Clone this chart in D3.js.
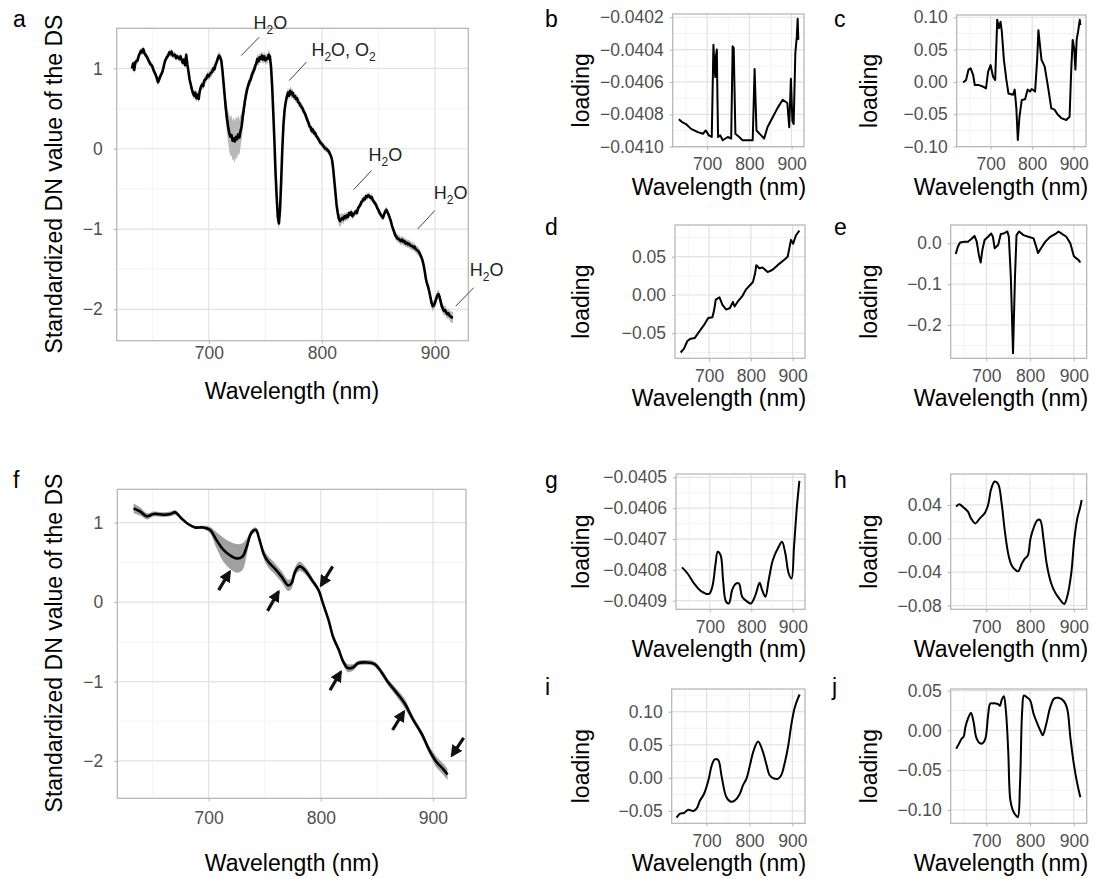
<!DOCTYPE html>
<html>
<head>
<meta charset="utf-8">
<script src="https://cdn.jsdelivr.net/npm/d3@7"></script>
<style>
  body { margin: 0; background: #fff; }
  svg { font-family: "Liberation Sans", Arial, sans-serif; }
</style>
</head>
<body>
<svg id="chart" width="1097" height="879"></svg>
<script>
'use strict';

// ---- data ----
var xDomain = [618.5, 929.5];
var xTicks  = [700, 800, 900];

// panel a: raw spectrum [wavelength, mean, sd]
var specA = [
  [632,1.00,.05],[633,1.06,.05],[634,0.98,.05],[635,1.08,.04],[637,1.10,.04],[638,1.16,.04],
  [640,1.22,.04],[641,1.20,.04],[642,1.24,.04],[643,1.19,.04],[645,1.15,.04],[646,1.12,.04],
  [648,1.06,.04],[650,1.03,.04],[651,0.98,.04],[653,0.92,.04],[654,0.88,.05],[655,0.83,.05],
  [656,0.86,.05],[657,0.90,.04],[659,0.96,.04],[660,1.02,.04],[661,1.08,.04],[662,1.12,.04],
  [664,1.16,.04],[665,1.20,.04],[666,1.18,.04],[667,1.21,.04],[668,1.16,.04],[670,1.17,.04],
  [671,1.13,.04],[672,1.15,.04],[674,1.12,.04],[675,1.15,.04],[676,1.10,.04],[677,1.07,.04],
  [678,1.11,.04],[679,1.04,.04],[680,1.17,.04],[681,1.05,.04],[682,0.96,.04],[683,0.86,.05],
  [684,0.80,.05],[685,0.74,.05],[686,0.69,.05],[687,0.66,.05],[688,0.70,.05],[689,0.63,.05],
  [690,0.67,.05],[691,0.62,.05],[692,0.72,.05],[693,0.77,.05],[694,0.80,.05],[695,0.78,.05],
  [696,0.85,.05],[698,0.88,.05],[699,0.92,.05],[700,0.90,.05],[701,0.93,.05],[703,0.96,.05],
  [704,1.00,.05],[705,0.99,.05],[706,1.05,.05],[707,1.08,.05],[708,1.13,.05],[709,1.16,.05],
  [710,1.14,.05],[711,1.10,.06],[712,0.98,.08],[713,0.82,.10],[714,0.66,.13],[715,0.50,.16],
  [716,0.38,.18],[717,0.28,.20],[718,0.20,.22],[719,0.15,.24],[720,0.17,.25],[721,0.10,.25],
  [722,0.13,.26],[723,0.09,.26],[724,0.15,.25],[725,0.12,.25],[726,0.18,.24],[727,0.14,.22],
  [728,0.22,.20],[729,0.28,.17],[730,0.40,.14],[731,0.50,.12],[732,0.60,.10],[733,0.68,.08],
  [734,0.75,.07],[736,0.84,.06],[737,0.86,.06],[738,0.92,.06],[740,0.98,.06],[741,1.03,.06],
  [742,1.06,.06],[743,1.12,.06],[744,1.09,.06],[745,1.14,.06],[746,1.12,.06],[747,1.16,.06],
  [748,1.11,.06],[749,1.15,.06],[750,1.10,.06],[751,1.13,.06],[752,1.12,.06],[753,1.17,.06],
  [754,1.15,.06],[755,1.02,.06],[756,0.78,.06],[757,0.45,.06],[758,0.10,.06],[759,-0.30,.06],
  [760,-0.60,.07],[761,-0.85,.08],[762,-0.93,.08],[763,-0.75,.07],[764,-0.40,.06],[765,0.00,.06],
  [766,0.30,.06],[767,0.48,.06],[768,0.58,.06],[769,0.65,.06],[770,0.70,.06],[771,0.66,.06],
  [772,0.72,.06],[773,0.68,.06],[774,0.70,.05],[775,0.65,.05],[776,0.66,.05],[777,0.62,.05],
  [778,0.63,.05],[779,0.58,.05],[780,0.57,.05],[781,0.54,.05],[782,0.52,.05],[783,0.50,.05],
  [784,0.46,.05],[785,0.44,.05],[786,0.40,.05],[787,0.36,.05],[788,0.33,.05],[789,0.28,.05],
  [790,0.27,.05],[791,0.22,.04],[792,0.24,.04],[793,0.19,.04],[794,0.20,.04],[795,0.16,.04],
  [796,0.14,.04],[797,0.12,.04],[798,0.09,.04],[799,0.07,.04],[800,0.06,.04],[801,0.04,.04],
  [802,0.02,.04],[803,0.00,.04],[804,0.00,.04],[805,-0.02,.04],[806,-0.03,.04],[807,-0.06,.04],
  [808,-0.09,.04],[809,-0.14,.04],[810,-0.25,.04],[811,-0.40,.05],[812,-0.55,.05],[813,-0.70,.06],
  [814,-0.80,.07],[815,-0.87,.08],[816,-0.90,.08],[817,-0.88,.07],[818,-0.86,.06],[819,-0.88,.06],
  [820,-0.84,.05],[821,-0.86,.05],[822,-0.83,.05],[823,-0.85,.05],[824,-0.80,.04],[825,-0.82,.04],
  [826,-0.79,.04],[827,-0.84,.04],[828,-0.82,.04],[829,-0.80,.04],[830,-0.78,.04],[831,-0.80,.04],
  [832,-0.74,.04],[833,-0.72,.04],[834,-0.70,.04],[835,-0.66,.04],[836,-0.65,.04],[837,-0.62,.04],
  [838,-0.63,.04],[839,-0.59,.04],[840,-0.60,.04],[841,-0.58,.04],[842,-0.59,.04],[843,-0.61,.04],
  [844,-0.60,.04],[845,-0.64,.04],[846,-0.66,.04],[847,-0.68,.04],[848,-0.70,.04],[849,-0.74,.04],
  [850,-0.76,.04],[851,-0.80,.04],[852,-0.82,.04],[853,-0.84,.04],[854,-0.86,.04],[855,-0.82,.04],
  [856,-0.78,.04],[857,-0.76,.04],[858,-0.79,.04],[859,-0.82,.04],[860,-0.86,.04],[861,-0.90,.04],
  [862,-0.96,.04],[863,-1.00,.04],[864,-1.04,.05],[865,-1.08,.05],[866,-1.10,.05],[867,-1.12,.05],
  [868,-1.12,.05],[869,-1.14,.05],[870,-1.15,.05],[871,-1.13,.05],[872,-1.16,.05],[873,-1.15,.05],
  [874,-1.18,.05],[875,-1.17,.05],[876,-1.19,.05],[877,-1.18,.05],[878,-1.20,.05],[879,-1.21,.05],
  [880,-1.21,.05],[881,-1.23,.05],[882,-1.22,.05],[883,-1.25,.05],[884,-1.26,.05],[885,-1.27,.05],
  [886,-1.29,.05],[887,-1.32,.05],[888,-1.35,.05],[889,-1.39,.05],[890,-1.45,.05],[891,-1.53,.05],
  [892,-1.62,.05],[893,-1.68,.05],[894,-1.72,.05],[895,-1.78,.05],[896,-1.85,.05],[897,-1.92,.06],
  [898,-1.96,.06],[899,-1.95,.06],[900,-1.92,.06],[901,-1.87,.06],[902,-1.83,.06],[903,-1.81,.06],
  [904,-1.84,.06],[905,-1.90,.06],[906,-1.96,.06],[907,-1.99,.06],[908,-2.02,.06],[909,-2.01,.06],
  [910,-2.04,.06],[911,-2.06,.06],[912,-2.05,.06],[913,-2.08,.06],[914,-2.09,.07],[915,-2.10,.07],
  [916,-2.10,.07]
];

// panel f: smoothed spectrum [wavelength, mean, sd]
var specF = [
  [633,1.18,.06],[639,1.14,.05],[645,1.08,.04],[651,1.11,.03],[660,1.10,.03],[666,1.11,.03],
  [670,1.13,.03],[676,1.05,.02],[682,0.98,.02],[688,0.94,.02],[695,0.94,.02],[701,0.91,.04],
  [707,0.78,.10],[713,0.66,.15],[719,0.59,.17],[725,0.55,.18],[730,0.57,.17],[734,0.70,.10],
  [738,0.87,.04],[742,0.91,.03],[745,0.80,.04],[749,0.61,.06],[753,0.51,.07],[759,0.42,.07],
  [765,0.32,.07],[771,0.21,.07],[774,0.24,.07],[777,0.38,.06],[781,0.45,.06],[786,0.40,.05],
  [792,0.28,.04],[798,0.15,.03],[802,-0.02,.03],[807,-0.23,.03],[811,-0.44,.03],[816,-0.60,.03],
  [820,-0.75,.04],[824,-0.83,.05],[829,-0.82,.04],[833,-0.77,.03],[841,-0.76,.03],[848,-0.78,.03],
  [854,-0.88,.04],[860,-1.01,.04],[867,-1.13,.05],[875,-1.28,.06],[882,-1.47,.04],[890,-1.66,.04],
  [897,-1.87,.05],[903,-2.01,.07],[909,-2.10,.07],[913,-2.17,.07]
];

// loadings of the raw spectra [wavelength, loading]
var loadB = [
  [633,-0.04083],[642,-0.04085],[650,-0.04086],[662,-0.04089],[678,-0.04091],[690,-0.04092],
  [697,-0.04090],[704,-0.04093],[711,-0.04094],[715,-0.04037],[717.5,-0.04052],[719.5,-0.04057],
  [721,-0.04044],[723,-0.04040],[724.5,-0.04070],[726,-0.04094],[731,-0.04093],[737,-0.04096],
  [749,-0.04094],[757,-0.04095],[760.5,-0.04038],[763,-0.04039],[767,-0.04092],[776,-0.04094],
  [784,-0.04096],[796,-0.04096],[808,-0.04096],[812.5,-0.04052],[817,-0.04090],[828,-0.04093],
  [835,-0.04095],[843,-0.04088],[855,-0.04082],[867,-0.04076],[879,-0.04071],[890,-0.04073],
  [894.5,-0.04088],[898.5,-0.04058],[902,-0.04084],[905,-0.04086],[909,-0.04042],[912.5,-0.04032],
  [914.5,-0.04021],[916,-0.04034]
];
var loadC = [
  [634,-0.001],[641,0.003],[647,0.019],[652,0.021],[658,0.011],[662,-0.005],[672,-0.005],
  [684,-0.008],[689,-0.010],[694,0.016],[700,0.026],[706,0.008],[711,0.003],[716,0.096],
  [720,0.083],[724,0.093],[727,0.078],[732,0.034],[738,0.003],[743,-0.018],[754,-0.020],
  [758,-0.012],[762,-0.041],[765.5,-0.090],[769.5,-0.054],[775,-0.028],[783,-0.027],[789,-0.012],
  [795,-0.015],[799,-0.011],[807,-0.015],[812,0.034],[815,0.080],[819,0.055],[822.5,0.034],
  [830,0.024],[838,-0.007],[846,-0.041],[854,-0.043],[862,-0.051],[870,-0.056],[882,-0.059],
  [890,-0.054],[894,0.019],[897.5,0.065],[901.5,0.049],[904,0.019],[907,0.065],[911,0.080],
  [914.5,0.096],[916,0.088]
];
var loadD = [
  [632,-0.075],[640,-0.070],[648,-0.060],[656,-0.057],[666,-0.056],[676,-0.048],[688,-0.039],
  [698,-0.030],[708,-0.029],[712,-0.020],[716,-0.006],[725,-0.003],[732,-0.013],[741,-0.019],
  [750,-0.017],[757,-0.009],[761,-0.015],[768,-0.009],[780,-0.001],[788,0.007],[800,0.014],
  [805,0.017],[810,0.028],[813,0.039],[820,0.035],[828,0.036],[840,0.030],[852,0.033],
  [864,0.039],[880,0.046],[888,0.050],[896,0.072],[901,0.067],[908,0.078],[916,0.084]
];
var loadE = [
  [630,-0.026],[635,-0.008],[640,0.002],[650,0.004],[658,0.004],[665,0.010],[673,0.018],
  [678,0.004],[683,-0.029],[687,-0.047],[691,-0.016],[696,0.008],[704,0.016],[711,0.024],
  [715,0.016],[719,-0.012],[727,-0.004],[733,0.023],[740,0.024],[748,0.029],[751.5,0.016],
  [756,-0.082],[761,-0.269],[765.5,-0.082],[769,0.020],[775,0.029],[785,0.020],[796,0.016],
  [808,0.012],[814,-0.008],[818,-0.024],[825,-0.012],[835,0.004],[846,0.016],[858,0.023],
  [865,0.029],[873,0.023],[883,0.016],[892,0.000],[900,-0.031],[906,-0.037],[911,-0.041],
  [915,-0.047]
];

// loadings of the smoothed spectra
var loadG = [
  [633,-0.040792],[646,-0.040811],[662,-0.040844],[678,-0.040868],[698,-0.040878],[706,-0.040855],
  [714,-0.040779],[719,-0.040741],[726,-0.040752],[732,-0.040833],[739,-0.040903],[746,-0.040909],
  [754,-0.040865],[762,-0.040846],[770,-0.040844],[778,-0.040887],[790,-0.040903],[799,-0.040909],
  [810,-0.040882],[820,-0.040842],[826,-0.040865],[834,-0.040887],[842,-0.040833],[852,-0.040768],
  [866,-0.040725],[874,-0.040709],[882,-0.040746],[890,-0.040811],[897,-0.040828],[903,-0.040725],
  [910,-0.040595],[916,-0.040511]
];
var loadH = [
  [631,0.038],[638,0.041],[650,0.036],[658,0.032],[665,0.024],[675,0.018],[685,0.024],
  [696,0.030],[704,0.040],[711,0.059],[719,0.068],[727,0.065],[735,0.042],[742,0.010],
  [750,-0.018],[758,-0.032],[768,-0.038],[773,-0.039],[781,-0.030],[788,-0.024],[795,-0.020],
  [801,0.000],[809,0.014],[817,0.022],[823,0.022],[831,-0.002],[838,-0.030],[848,-0.053],
  [858,-0.065],[869,-0.073],[878,-0.078],[885,-0.069],[894,-0.042],[901,-0.002],[908,0.024],
  [914,0.036],[918,0.046]
];
var loadI = [
  [630,-0.060],[638,-0.054],[647,-0.053],[657,-0.048],[669,-0.050],[677,-0.046],[684,-0.035],
  [694,-0.024],[704,-0.004],[712,0.019],[719,0.028],[727,0.027],[735,0.002],[746,-0.029],
  [756,-0.036],[766,-0.034],[776,-0.026],[785,-0.011],[793,-0.001],[801,0.019],[810,0.042],
  [820,0.055],[830,0.042],[840,0.019],[847,0.004],[857,-0.001],[867,-0.001],[874,0.004],
  [882,0.022],[890,0.047],[898,0.082],[905,0.105],[913,0.120],[917,0.126]
];
var loadJ = [
  [631,-0.023],[637,-0.017],[644,-0.010],[648,-0.008],[652,0.004],[658,0.015],[665,0.022],
  [671,0.010],[677,-0.009],[685,-0.016],[692,-0.016],[698,-0.010],[704,0.019],[709,0.034],
  [715,0.034],[721,0.034],[727,0.033],[731,0.031],[735,0.038],[740,0.043],[744.5,0.026],
  [750,-0.025],[755,-0.088],[761,-0.101],[768,-0.107],[772,-0.109],[777,-0.067],[782,0.025],
  [786,0.044],[792,0.042],[800,0.038],[808,0.021],[817,0.008],[825,-0.002],[829,-0.006],
  [837,0.008],[846,0.029],[855,0.040],[865,0.041],[877,0.037],[885,0.027],[892,-0.008],
  [900,-0.042],[908,-0.067],[915,-0.084]
];

// absorption labels in panel a: text position, then leader line ends
var labelsA = [
  {wl:739.5, v: 1.49, txt:[['H',0],['2',1],['O',0]], x1:728.6, y1: 1.16, x2:744.6, y2: 1.39},
  {wl:790.7, v: 1.16, txt:[['H',0],['2',1],['O, O',0],['2',1]], x1:771.2, y1: 0.85, x2:786.3, y2: 1.08},
  {wl:841.2, v:-0.15, txt:[['H',0],['2',1],['O',0]], x1:828.0, y1:-0.51, x2:844.0, y2:-0.27},
  {wl:898.9, v:-0.63, txt:[['H',0],['2',1],['O',0]], x1:884.7, y1:-1.00, x2:899.8, y2:-0.77},
  {wl:930.8, v:-1.59, txt:[['H',0],['2',1],['O',0]], x1:918.4, y1:-1.96, x2:934.3, y2:-1.73}
];
// arrows in panel f: [tail wl, tail v, head wl, head v]
var arrowsF = [
  [708.9, 0.15, 718.7, 0.38], [752.5,-0.11, 762.2, 0.13], [810.6, 0.45, 800.2, 0.21],
  [808.2,-1.11, 817.7,-0.88], [864.0,-1.61, 874.0,-1.38], [927.4,-1.71, 917.0,-1.93]
];

// ---- layout ----
var panels = [
  {id:'a', data:specA, big:true, box:[116.7, 28.3, 468.3, 340.7], y:[-2.39, 1.50], ticks:[-2,-1,0,1],
   fmt:'d', letter:[13, 27], xt:[292, 399], yt:[62, 184], xpad:3, band:'#b8b8b8', curve:d3.curveLinear},
  {id:'f', data:specF, big:true, box:[117.3, 489.3, 466, 798.3], y:[-2.47, 1.42], ticks:[-2,-1,0,1],
   fmt:'d', letter:[13, 488], xt:[292, 871], yt:[62, 643], xpad:10, band:'#a0a0a0', curve:d3.curveCatmullRom},
  {id:'b', data:loadB, box:[672.7, 14, 804, 146.7], y:[-0.04100, -0.04018],
   ticks:[-0.0410,-0.0408,-0.0406,-0.0404,-0.0402], fmt:'.4f', letter:[545, 27], curve:d3.curveLinear},
  {id:'c', data:loadC, box:[956.7, 15, 1086, 146.7], y:[-0.1003, 0.1035],
   ticks:[-0.10,-0.05,0,0.05,0.10], fmt:'.2f', letter:[834, 27], curve:d3.curveLinear},
  {id:'d', data:loadD, box:[675, 225, 805, 358.3], y:[-0.0826, 0.0914],
   ticks:[-0.05,0,0.05], fmt:'.2f', letter:[545, 235], curve:d3.curveLinear},
  {id:'e', data:loadE, box:[950.7, 225, 1086.7, 358.3], y:[-0.2815, 0.0448],
   ticks:[-0.2,-0.1,0], fmt:'.1f', letter:[834, 235], curve:d3.curveLinear},
  {id:'g', data:loadG, box:[676, 474, 805, 609.3], y:[-0.040928, -0.040489],
   ticks:[-0.0409,-0.0408,-0.0407,-0.0406,-0.0405], fmt:'.4f', letter:[545, 488], curve:d3.curveCatmullRom},
  {id:'h', data:loadH, box:[950.7, 474, 1086.7, 609.3], y:[-0.0843, 0.0769],
   ticks:[-0.08,-0.04,0,0.04], fmt:'.2f', letter:[834, 488], curve:d3.curveCatmullRom},
  {id:'i', data:loadI, box:[671.7, 689, 805, 823.3], y:[-0.0686, 0.1343],
   ticks:[-0.05,0,0.05,0.10], fmt:'.2f', letter:[545, 695], curve:d3.curveCatmullRom},
  {id:'j', data:loadJ, box:[950.7, 689, 1086.7, 823.3], y:[-0.1167, 0.0521],
   ticks:[-0.10,-0.05,0,0.05], fmt:'.2f', letter:[832, 695], curve:d3.curveCatmullRom}
];

var svg = d3.select('#chart');

svg.append('defs').append('marker')
  .attr('id', 'head')
  .attr('viewBox', '0 0 10 10')
  .attr('refX', 8).attr('refY', 5)
  .attr('markerUnits', 'userSpaceOnUse')
  .attr('markerWidth', 12).attr('markerHeight', 12)
  .attr('orient', 'auto')
  .append('path')
  .attr('d', 'M0,0 L10,5 L0,10 Z')
  .attr('fill', '#111');

function minorsOf(ticks, dom){
  var step = ticks[1] - ticks[0];
  var out = ticks.map(function(t){ return t - step / 2; });
  out.push(ticks[ticks.length - 1] + step / 2);
  return out.filter(function(v){ return v >= dom[0] && v <= dom[1]; });
}

function fmtTick(f){
  var base = f === 'd' ? d3.format('d') : d3.format(f);
  return function(v){ return base(v).replace('-', '\u2212'); };
}

function drawPanel(p){
  var left = p.box[0], top = p.box[1], right = p.box[2], bottom = p.box[3];
  var x = d3.scaleLinear().domain(xDomain).range([left, right]);
  var y = d3.scaleLinear().domain(p.y).range([bottom, top]);
  var g = svg.append('g').attr('class', 'panel-' + p.id);
  var yDom = [Math.min(p.y[0], p.y[1]), Math.max(p.y[0], p.y[1])];

  // grid: minor first, then major
  var grid = g.append('g');
  grid.selectAll('.vmin').data(minorsOf(xTicks, xDomain)).enter().append('line')
    .attr('x1', x).attr('x2', x).attr('y1', top).attr('y2', bottom)
    .attr('stroke', '#f0f0f0').attr('stroke-width', 0.8);
  grid.selectAll('.hmin').data(minorsOf(p.ticks, yDom)).enter().append('line')
    .attr('x1', left).attr('x2', right).attr('y1', y).attr('y2', y)
    .attr('stroke', '#f0f0f0').attr('stroke-width', 0.8);
  grid.selectAll('.vmaj').data(xTicks).enter().append('line')
    .attr('x1', x).attr('x2', x).attr('y1', top).attr('y2', bottom)
    .attr('stroke', '#e2e2e2').attr('stroke-width', 1.2);
  grid.selectAll('.hmaj').data(p.ticks).enter().append('line')
    .attr('x1', left).attr('x2', right).attr('y1', y).attr('y2', y)
    .attr('stroke', '#e2e2e2').attr('stroke-width', 1.2);

  // sd band
  if(p.band){
    g.append('path')
      .datum(p.data)
      .attr('fill', p.band)
      .attr('d', d3.area()
        .curve(p.curve)
        .x(function(d){ return x(d[0]); })
        .y0(function(d){ return y(d[1] - d[2]); })
        .y1(function(d){ return y(d[1] + d[2]); }));
  }

  g.append('path')
    .datum(p.data)
    .attr('fill', 'none')
    .attr('stroke', '#000')
    .attr('stroke-width', p.big ? 2.6 : 2)
    .attr('stroke-linejoin', 'round')
    .attr('d', d3.line()
      .curve(p.curve)
      .x(function(d){ return x(d[0]); })
      .y(function(d){ return y(d[1]); }));

  g.append('rect')
    .attr('x', left).attr('y', top)
    .attr('width', right - left).attr('height', bottom - top)
    .attr('fill', 'none').attr('stroke', '#b3b3b3').attr('stroke-width', 1.2);

  // axes
  var xAxis = d3.axisBottom(x).tickValues(xTicks).tickSize(3).tickSizeOuter(0)
    .tickPadding(p.big ? p.xpad : 8).tickFormat(d3.format('d'));
  var yAxis = d3.axisLeft(y).tickValues(p.ticks).tickSize(3).tickSizeOuter(0)
    .tickPadding(p.big ? 11 : 6).tickFormat(fmtTick(p.fmt));

  [g.append('g').attr('transform', 'translate(0,' + bottom + ')').call(xAxis),
   g.append('g').attr('transform', 'translate(' + left + ',0)').call(yAxis)]
    .forEach(function(ax){
      ax.select('.domain').remove();
      ax.selectAll('line').attr('stroke', '#b3b3b3').attr('stroke-width', 1);
      ax.selectAll('text')
        .attr('fill', '#505050')
        .style('font-size', '17.5px')
        .style('font-family', '"Liberation Sans", Arial, sans-serif');
    });

  // titles
  var xt = p.xt || [left > 900 ? 1001 : 719, bottom + 48];
  var yt = p.yt || [left > 900 ? 877 : 589, (top + bottom) / 2 + 10];
  g.append('text')
    .attr('x', xt[0]).attr('y', xt[1])
    .attr('text-anchor', 'middle')
    .style('font-size', '23px')
    .text('Wavelength (nm)');
  g.append('text')
    .attr('transform', 'translate(' + yt[0] + ',' + yt[1] + ') rotate(-90)')
    .attr('text-anchor', 'middle')
    .style('font-size', '23px')
    .text(p.big ? 'Standardized DN value of the DS' : 'loading');
  g.append('text')
    .attr('x', p.letter[0]).attr('y', p.letter[1])
    .style('font-size', '23px')
    .text(p.id);

  return {x: x, y: y, g: g};
}

var drawn = {};
panels.forEach(function(p){ drawn[p.id] = drawPanel(p); });

// annotations for panel a
var pa = drawn.a;
pa.g.selectAll('.leader').data(labelsA).enter().append('line')
  .attr('x1', function(d){ return pa.x(d.x1); })
  .attr('y1', function(d){ return pa.y(d.y1); })
  .attr('x2', function(d){ return pa.x(d.x2); })
  .attr('y2', function(d){ return pa.y(d.y2); })
  .attr('stroke', '#444').attr('stroke-width', 1);

pa.g.selectAll('.lab').data(labelsA).enter().append('text')
  .attr('x', function(d){ return pa.x(d.wl); })
  .attr('y', function(d){ return pa.y(d.v); })
  .attr('fill', '#222')
  .style('font-size', '18px')
  .each(function(d){
    var t = d3.select(this);
    var low = false;
    d.txt.forEach(function(seg){
      var s = t.append('tspan').text(seg[0]);
      if(seg[1]){ s.attr('dy', 5).style('font-size', '12px'); low = true; }
      else if(low){ s.attr('dy', -5); low = false; }
    });
  });

// arrows for panel f
var pf = drawn.f;
pf.g.selectAll('.arrow').data(arrowsF).enter().append('line')
  .attr('x1', function(d){ return pf.x(d[0]); })
  .attr('y1', function(d){ return pf.y(d[1]); })
  .attr('x2', function(d){ return pf.x(d[2]); })
  .attr('y2', function(d){ return pf.y(d[3]); })
  .attr('stroke', '#111').attr('stroke-width', 3.2)
  .attr('marker-end', 'url(#head)');
</script>
</body>
</html>
